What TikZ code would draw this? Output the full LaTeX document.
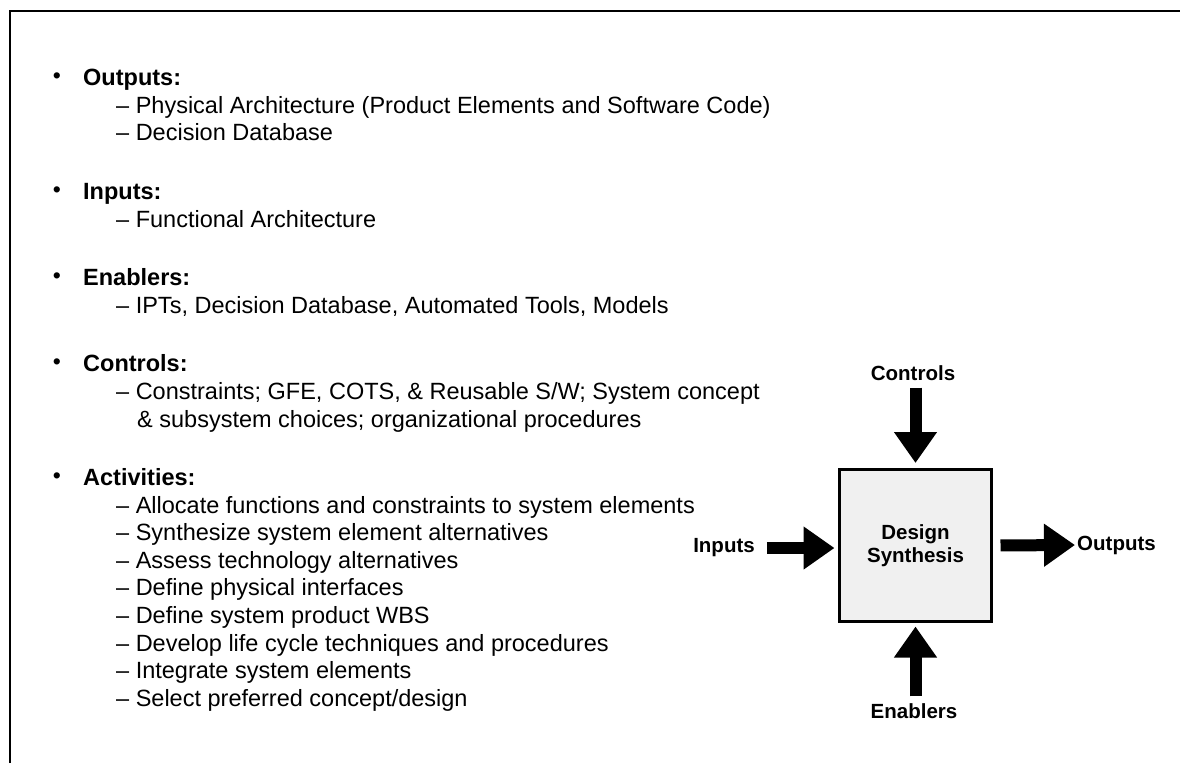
\documentclass[tikz,border=0pt]{standalone}
\usepackage{fontspec}
\setmainfont{Liberation Sans}
\usetikzlibrary{arrows.meta}
\begin{document}
\begin{tikzpicture}[x=1pt,y=-1pt,
  txt/.style={anchor=base west, inner sep=0pt, font=\fontsize{23.5}{27}\selectfont},
  head/.style={anchor=base west, inner sep=0pt, font=\fontsize{23.5}{27}\selectfont\bfseries},
  bul/.style={inner sep=0pt, font=\fontsize{23}{23}\selectfont},
  lbl/.style={inner sep=0pt, font=\fontsize{20.5}{23}\selectfont\bfseries},
  fatarrow/.style={line width=12pt, -{Triangle[length=31pt,width=41pt]}},
  frame/.style={line width=2.5pt}
]
\useasboundingbox (0,0) rectangle (1180,763);
\draw[frame] (10,763) -- (10,11) -- (1180,11);

% list
\node[bul] (b1) at (57,78) {\textbullet};
\node[head] (h1) at (83,85.5) {Outputs:};
\node[txt] (o1) at (116,113) {– Physical Architecture (Product Elements and Software Code)};
\node[txt] (o2) at (116,140.7) {– Decision Database};

\node[bul] (b2) at (57,191.8) {\textbullet};
\node[head] (h2) at (83,199.3) {Inputs:};
\node[txt] (i1) at (116,227) {– Functional Architecture};

\node[bul] (b3) at (57,278) {\textbullet};
\node[head] (h3) at (83,285.5) {Enablers:};
\node[txt] (e1) at (116,313) {– IPTs, Decision Database, Automated Tools, Models};

\node[bul] (b4) at (57,364.2) {\textbullet};
\node[head] (h4) at (83,371.7) {Controls:};
\node[txt] (c1) at (116,399.3) {– Constraints; GFE, COTS, \& Reusable S/W; System concept};
\node[txt] (c2) at (137,427) {\& subsystem choices; organizational procedures};

\node[bul] (b5) at (57,478) {\textbullet};
\node[head] (h5) at (83,485.5) {Activities:};
\node[txt] (a1) at (116,513.1) {– Allocate functions and constraints to system elements};
\node[txt] (a2) at (116,540.7) {– Synthesize system element alternatives};
\node[txt] (a3) at (116,568.3) {– Assess technology alternatives};
\node[txt] (a4) at (116,595.9) {– Define physical interfaces};
\node[txt] (a5) at (116,623.5) {– Define system product WBS};
\node[txt] (a6) at (116,651.1) {– Develop life cycle techniques and procedures};
\node[txt] (a7) at (116,678.7) {– Integrate system elements};
\node[txt] (a8) at (116,706.3) {– Select preferred concept/design};

% diagram
\node[draw, line width=3pt, fill=black!6, minimum width=152pt, minimum height=152pt,
      align=center, font=\fontsize{20.5}{23}\selectfont\bfseries] (box) at (915.5,545.5) {Design\\Synthesis};
\node[lbl] (ctl) at (913,373) {Controls};
\node[lbl] (inp) at (724,548) {Inputs};
\node[lbl, anchor=west] (outp) at (1077,545) {Outputs};
\node[lbl] (enb) at (914,711) {Enablers};

\draw[fatarrow, shorten <=7pt, shorten >=5pt] (ctl.south -| box.north) -- (box.north);
\draw[fatarrow, shorten <=12pt, shorten >=3.5pt] (inp.east) -- (inp.east -| box.west);
\draw[fatarrow, shorten <=7.5pt, shorten >=2pt] (box.east) -- (outp.west);
\draw[fatarrow, shorten <=7pt, shorten >=3.5pt] (enb.north -| box.south) -- (box.south);
\end{tikzpicture}
\end{document}
